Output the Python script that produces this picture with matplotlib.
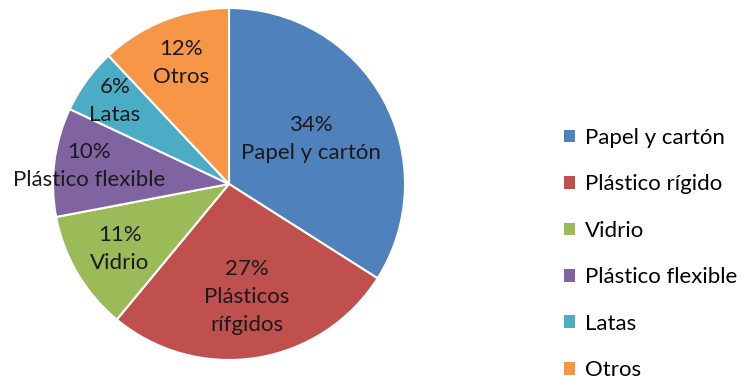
import numpy as np
import matplotlib.pyplot as plt
from matplotlib.patches import Patch

plt.rcParams['font.family'] = ['Lato', 'DejaVu Sans']

# data
categorias = ['Papel y cartón', 'Plástico rígido', 'Vidrio',
              'Plástico flexible', 'Latas', 'Otros']
porcentajes = [34, 27, 11, 10, 6, 12]
etiquetas = ['Papel y cartón', 'Plásticos\nrífgidos', 'Vidrio',
             'Plástico flexible', 'Latas', 'Otros']
colores = ['#4F81BD', '#C0504D', '#9BBB59', '#8064A2', '#4BACC6', '#F79646']

# radial position of each data label (fraction of radius)
dist_etiqueta = [0.53, 0.65, 0.72, 0.80, 0.80, 0.74]

fig = plt.figure(figsize=(7.43, 3.89), dpi=100)
W, H = 743, 389
cx, cy, r = 229, 184, 176
ax = fig.add_axes([(cx - r) / W, (H - cy - r) / H, 2 * r / W, 2 * r / H])

wedges, _ = ax.pie(porcentajes, colors=colores, startangle=90, counterclock=False,
                   radius=1, wedgeprops=dict(edgecolor='white', linewidth=1.5))
ax.set_xlim(-1, 1)
ax.set_ylim(-1, 1)
ax.set_aspect('equal')

for w, p, lab, d in zip(wedges, porcentajes, etiquetas, dist_etiqueta):
    ang = np.deg2rad((w.theta1 + w.theta2) / 2)
    ax.text(d * np.cos(ang), d * np.sin(ang), f'{p}%\n{lab}',
            ha='center', va='center', fontsize=16, color='#1a1a1a',
            linespacing=1.5)

handles = [Patch(facecolor=c, edgecolor='none') for c in colores]
fig.legend(handles, categorias, loc='upper left', bbox_to_anchor=(555 / W, 1 - 119 / H),
           frameon=False, fontsize=16, handlelength=0.5, handleheight=0.5,
           handletextpad=0.45, labelspacing=1.19, borderaxespad=0)

fig.savefig('out.png', dpi=100)
